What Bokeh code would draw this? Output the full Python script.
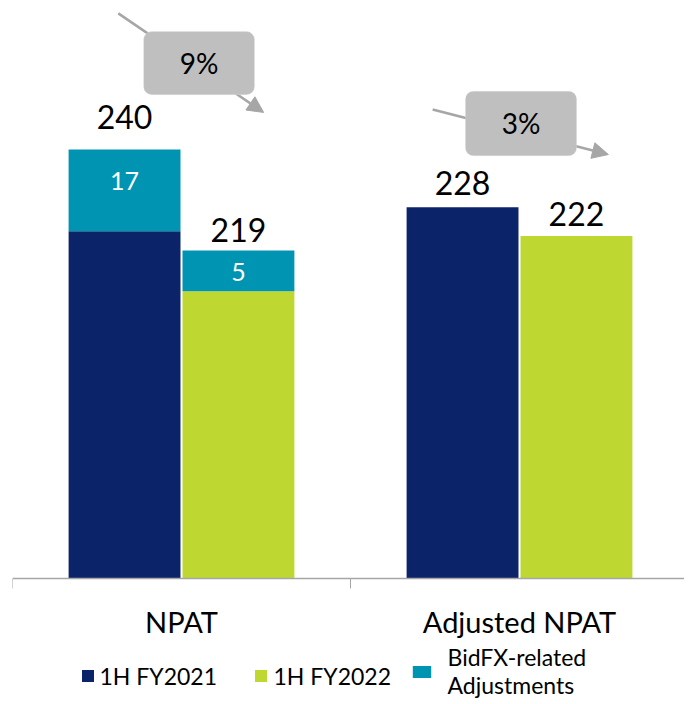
from bokeh.plotting import figure
from bokeh.models import (ColumnDataSource, Range1d, LinearAxis, FixedTicker,
                          BoxAnnotation, Arrow, NormalHead, Label, Legend, LegendItem)
from bokeh.transform import dodge
from bokeh.core.properties import value
from bokeh.embed import file_html
from bokeh.resources import INLINE

# ---------------- data ----------------
categories = ["NPAT", "Adjusted NPAT"]
fy2021_base = [223, 228]        # 1H FY2021 (NPAT bar excl. BidFX adjustments)
fy2022_base = [210.5, 222]      # 1H FY2022
bidfx_adj = [17, 8.5]           # BidFX-related adjustments stacked on the NPAT bars
bidfx_labels = ["17", "5"]
total_labels_2021 = ["240", "228"]
total_labels_2022 = ["219", "222"]
change_labels = ["9%", "3%"]
series_names = ["1H FY2021", "1H FY2022", "BidFX-related\nAdjustments"]

# ---------------- style ----------------
NAVY = "#0B2369"
GREEN = "#BED831"
TEAL = "#0094B3"
GREY_BOX = "#BFBFBF"
GREY_LINE = "#A6A6A6"
FONT = "Lato"
OFF = 0.1685
BAR_W = 0.331
BASE = 150.8          # value at the category axis line

centers = [i + 0.5 for i in range(len(categories))]
bounds = [float(i) for i in range(len(categories) + 1)]

p = figure(width=684, height=700,
           x_range=Range1d(0, 672 / 338), y_range=Range1d(125.44, 270.97),
           output_backend="svg", toolbar_location=None,
           x_axis_location=None, y_axis_location=None,
           min_border_left=12, min_border_right=0, min_border_top=0,
           min_border_bottom=0)
p.outline_line_color = None
p.xgrid.visible = False
p.ygrid.visible = False

# bars
src21 = ColumnDataSource(dict(x=centers, top=fy2021_base))
src22 = ColumnDataSource(dict(x=centers, top=fy2022_base))
r21 = p.vbar(x=dodge("x", -OFF, range=p.x_range), top="top", bottom=BASE, width=BAR_W,
             source=src21, fill_color=NAVY, line_color=None)
r22 = p.vbar(x=dodge("x", OFF, range=p.x_range), top="top", bottom=BASE, width=BAR_W,
             source=src22, fill_color=GREEN, line_color=None)

# stacked adjustments (NPAT group only)
adj_src = ColumnDataSource(dict(
    x=[centers[0] - OFF, centers[0] + OFF],
    bottom=[fy2021_base[0], fy2022_base[0]],
    top=[fy2021_base[0] + bidfx_adj[0], fy2022_base[0] + bidfx_adj[1]],
    mid=[fy2021_base[0] + bidfx_adj[0] / 2, fy2022_base[0] + bidfx_adj[1] / 2],
    label=bidfx_labels,
    yoff=[-9, 1],
))
radj = p.vbar(x="x", bottom="bottom", top="top", width=BAR_W, source=adj_src,
              fill_color=TEAL, line_color=None)
p.text(x="x", y="mid", text="label", source=adj_src, y_offset="yoff",
       text_align="center", text_baseline="middle", text_color="white",
       text_font=value(FONT), text_font_size="25px")

# total labels
tops21 = [fy2021_base[0] + bidfx_adj[0], fy2021_base[1]]
tops22 = [fy2022_base[0] + bidfx_adj[1], fy2022_base[1]]
tot_src = ColumnDataSource(dict(
    x=[centers[0] - OFF, centers[0] + OFF, centers[1] - OFF, centers[1] + OFF],
    y=[tops21[0], tops22[0], tops21[1], tops22[1]],
    label=[total_labels_2021[0], total_labels_2022[0], total_labels_2021[1], total_labels_2022[1]],
    yoff=[-32, -20, -24, -22],
))
p.text(x="x", y="y", text="label", source=tot_src, y_offset="yoff",
       text_align="center", text_baseline="middle", text_color="black",
       text_font=value(FONT), text_font_size="32px")

# change call-outs (arrow behind rounded box)
arrows = [((0.313, 268.3), (0.743, 247.7)), ((1.243, 248.3), (1.763, 238.95))]
boxes = [(0.388, 0.716, 251.4, 264.5), (1.340, 1.669, 238.7, 252.1)]
for (s, e), (l, r, b, t), txt in zip(arrows, boxes, change_labels):
    p.add_layout(Arrow(x_start=s[0], y_start=s[1], x_end=e[0], y_end=e[1],
                       line_color=GREY_LINE, line_width=2.5,
                       end=NormalHead(size=16, fill_color=GREY_LINE, line_color=GREY_LINE)))
    p.add_layout(BoxAnnotation(left=l, right=r, bottom=b, top=t, fill_color=GREY_BOX,
                               fill_alpha=1, line_color="#E3E3E3", line_width=1,
                               border_radius=8))
    p.add_layout(Label(x=(l + r) / 2, y=(b + t) / 2, text=txt, text_align="center",
                       text_baseline="middle", text_font=FONT, text_font_size="28px",
                       text_color="black"))

# x axis at the bar base: boundary ticks as minor ticks, category labels at centers
ax = LinearAxis(ticker=FixedTicker(ticks=centers, minor_ticks=bounds), fixed_location=BASE)
ax.major_label_overrides = {c: n for c, n in zip(centers, categories)}
ax.major_tick_out = 0
ax.major_tick_in = 0
ax.minor_tick_out = 10
ax.minor_tick_in = 0
ax.minor_tick_line_color = GREY_LINE
ax.axis_line_color = GREY_LINE
ax.axis_line_width = 1.5
ax.major_label_standoff = 15
ax.major_label_text_font = FONT
ax.major_label_text_font_size = "29px"
ax.major_label_text_color = "black"
p.add_layout(ax, "below")

# legends (one per item for exact placement)
leg_specs = [
    (r21, series_names[0], 67.5, 10.5, 15, 15, 5),
    (r22, series_names[1], 240.5, 10.5, 15, 15, 6),
    (radj, series_names[2], 397.5, 1, 23, 15, 15),
]
for rend, name, vx, vy, gw, gh, stand in leg_specs:
    leg = Legend(items=[LegendItem(label=name, renderers=[rend])],
                 location=(vx, vy), orientation="horizontal",
                 glyph_width=gw, glyph_height=gh, label_standoff=stand,
                 padding=0, margin=0, spacing=0,
                 border_line_color=None, background_fill_alpha=0,
                 label_text_font=FONT, label_text_font_size="23px",
                 label_text_color="black", label_text_line_height=1.35)
    p.add_layout(leg)

open("out.html", "w").write(file_html(p, INLINE))
